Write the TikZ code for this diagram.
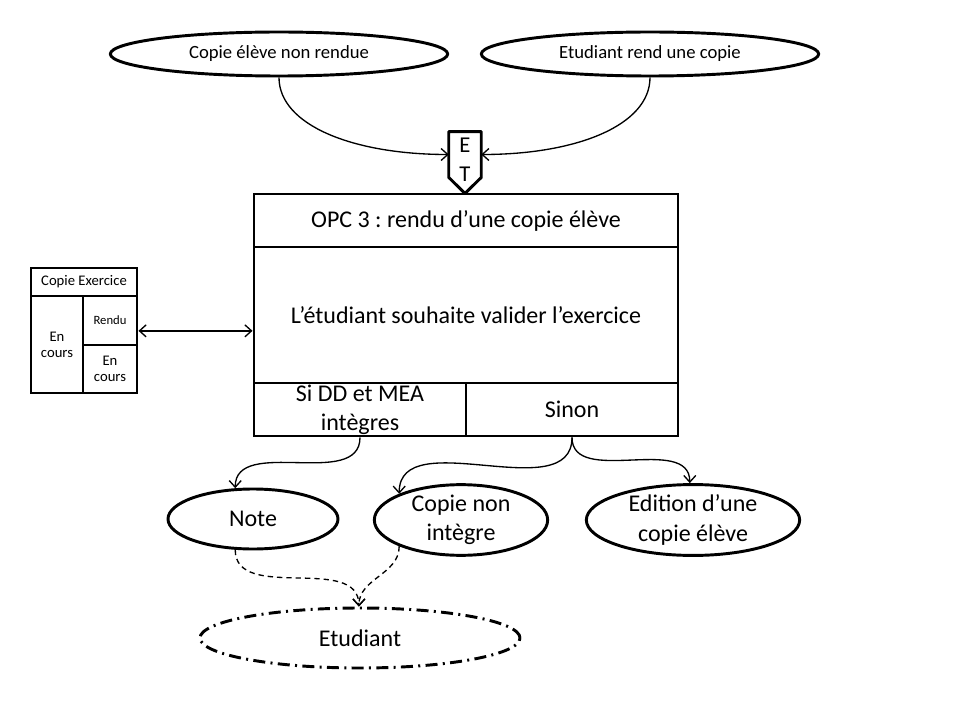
\documentclass[tikz,border=0pt]{standalone}
\usepackage{fontspec}
\setmainfont{Carlito}
\usetikzlibrary{arrows.meta,shapes.geometric,calc}
\frenchspacing

\begin{document}
\begin{tikzpicture}[x=0.75pt,y=-0.75pt,
    cell/.style={draw,line width=2.2pt,inner sep=0pt,align=center},
    oval/.style={draw,ellipse,line width=2.2pt,inner sep=0pt,align=center},
    big/.style={font=\fontsize{18}{22}\selectfont},
    link/.style={line width=1pt,-{Straight Barb[length=5pt,width=9pt]}},
    dlink/.style={link,dash pattern=on 4pt off 3pt}]
      \useasboundingbox (0,0) rectangle (960,720);
      % Evenements en entree
      \node[oval,minimum width=253pt,minimum height=33pt,font=\fontsize{14}{16}\selectfont] (nonrendue) at (279,54) {Copie élève non rendue};
      \node[oval,minimum width=253pt,minimum height=33pt,font=\fontsize{14}{16}\selectfont] (rend) at (650,54) {Etudiant rend une copie};
      % Synchronisation ET
      \node[inner sep=0pt,minimum width=24pt,minimum height=34pt] (et) at (465,154.5) {};
      \draw[line width=2.2pt,line join=round] (et.north west) -- (et.north east) -- (et.south east)
            -- ($(et.south)+(0,16)$) -- (et.south west) -- cycle;
      \node[align=center,font=\fontsize{17}{21.5}\selectfont] (etlabel) at (465,160) {E\\T};
      %
      % Operation
      \node[cell,big,minimum width=318pt,minimum height=39.75pt] (opc) at (466,220.5) {OPC 3 : rendu d’une copie élève};
      \node[cell,big,minimum width=318pt,minimum height=102pt] (regle) at (466,315) {L’étudiant souhaite valider l’exercice};
      \node[cell,big,minimum width=159pt,minimum height=39.75pt] (si) at (360,409.5) {Si DD et MEA\\intègres};
      \node[cell,big,minimum width=159pt,minimum height=39.75pt] (sinon) at (572,409.5) {Sinon};
      %
      % Etat de la copie
      \node[cell,minimum width=79.5pt,minimum height=21pt,font=\fontsize{11}{12}\selectfont] (copie) at (84,282) {Copie Exercice};
      \node[cell,minimum width=39pt,minimum height=72.75pt,font=\fontsize{11}{12}\selectfont] (encours) at (57,344.5) {En\\cours};
      \node[cell,minimum width=40.5pt,minimum height=36.75pt,font=\fontsize{9.5}{11}\selectfont] (rendu) at (110,320.5) {Rendu};
      \node[cell,minimum width=40.5pt,minimum height=36pt,font=\fontsize{11}{12}\selectfont] (encoursbis) at (110,369) {En\\cours};
      %
      % Resultats
      \node[oval,big,minimum width=127.5pt,minimum height=45pt] (note) at (253,519) {Note};
      \node[oval,big,minimum width=130pt,minimum height=45pt] (nonintegre) at (461,520) {Copie non\\intègre};
      \node[oval,big,minimum width=160pt,minimum height=45pt] (edition) at (693,520) {Edition d’une\\copie élève};
      \node[oval,big,minimum width=240pt,minimum height=45pt,
            dash pattern=on 9pt off 4pt on 1.5pt off 4pt] (etudiant) at (360,638) {Etudiant};
      %
      % Liens
      \draw[link] (nonrendue.south) .. controls +(0,48) and +(-95,0) .. (et.west);
      \draw[link] (rend.south) .. controls +(0,48) and +(95,0) .. (et.east);
      \draw[line width=1pt,{Straight Barb[length=5pt,width=9pt]}-{Straight Barb[length=5pt,width=9pt]}]
            (rendu.-20) -- (rendu.-20 -| regle.west);
      \draw[link] (si.south) to[out=-90,in=90] (note.120);
      \draw[link] (sinon.south) to[out=-90,in=90] (nonintegre.157);
      \draw[link] (sinon.south) to[out=-90,in=90] (edition.95);
      \draw[dlink] (note.-120) to[out=-90,in=90] (etudiant.92);
      \draw[dlink] (nonintegre.-157) to[out=-90,in=90] (etudiant.92);
\end{tikzpicture}
\end{document}
